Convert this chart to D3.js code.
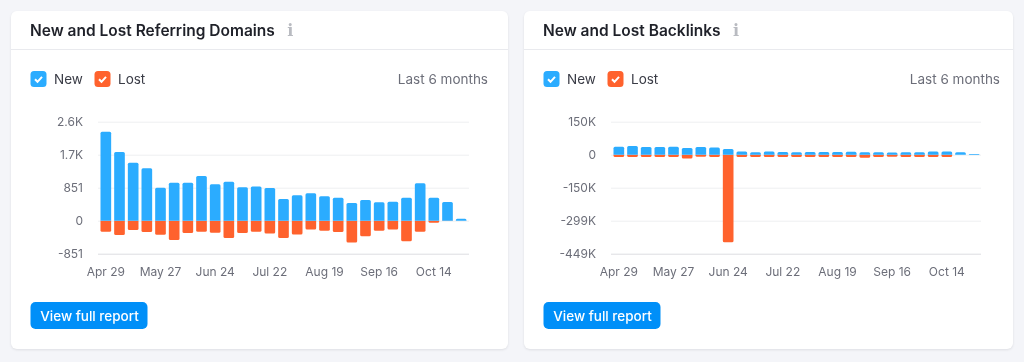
<!DOCTYPE html>
<html>
<head>
<meta charset="utf-8">
<script src="https://cdn.jsdelivr.net/npm/d3@7/dist/d3.min.js"></script>
<style>
html, body { margin: 0; padding: 0; background: #f4f5f9; overflow: hidden; }
svg { display: block; font-family: Inter, "Noto Sans", sans-serif; filter: blur(0.3px); }
</style>
</head>
<body>
<div id="chart"></div>
<script>
var width = 1024,
    height = 362;

// weekly buckets
var weeks = ["Apr 29", "May 6", "May 13", "May 20", "May 27", "Jun 3", "Jun 10", "Jun 17", "Jun 24",
    "Jul 1", "Jul 8", "Jul 15", "Jul 22", "Jul 29", "Aug 5", "Aug 12", "Aug 19", "Aug 26",
    "Sep 2", "Sep 9", "Sep 16", "Sep 23", "Sep 30", "Oct 7", "Oct 14", "Oct 21", "Oct 28"];
var weekLabels = ["Apr 29", "May 27", "Jun 24", "Jul 22", "Aug 19", "Sep 16", "Oct 14"];

// referring domains
var domainsNew = [2296, 1772, 1497, 1350, 851, 980, 980, 1153, 937, 1006, 860, 885, 843,
    559, 654, 705, 628, 594, 456, 533, 473, 490, 594, 963, 594, 482, 52];
var domainsLost = [284, 370, 241, 292, 361, 499, 318, 284, 310, 447, 318, 284, 327,
    447, 353, 224, 258, 292, 559, 404, 258, 224, 533, 284, 52, 5, 0];
var domainsTicks = [2553, 1702, 851, 0, -851];
var domainsTickLabels = ["2.6K", "1.7K", "851", "0", "-851"];

// backlinks
var backlinksNew = [36000, 39000, 35000, 35000, 36000, 30000, 35000, 33000, 26000, 14000, 11000, 14000, 12000,
    11000, 12000, 12000, 12000, 13000, 11000, 11000, 10000, 11000, 11000, 14000, 14000, 11000, 3000];
var backlinksLost = [10000, 10000, 10000, 10000, 10000, 17000, 9000, 10000, 397000, 10000, 10000, 10000, 10000,
    10000, 11000, 11000, 10000, 10000, 14000, 10000, 9000, 10000, 10000, 10000, 10000, 0, 0];
var backlinksTicks = [149700, 0, -149700, -299400, -449100];
var backlinksTickLabels = ["150K", "0", "-150K", "-299K", "-449K"];

var blue = "#2bacff",
    orange = "#ff622d",
    dark = "#1f2129",
    grey = "#6c6e79";

var svg = d3.select("#chart").append("svg")
    .attr("width", width)
    .attr("height", height);

// bar with rounded far end, flat on the zero line
function barPath(x, w, y0, y1, r) {
    var dir = y1 < y0 ? 1 : -1;
    r = Math.min(r, Math.abs(y1 - y0), w / 2);
    var p = d3.path();
    p.moveTo(x, y0);
    p.lineTo(x, y1 + dir * r);
    p.quadraticCurveTo(x, y1, x + r, y1);
    p.lineTo(x + w - r, y1);
    p.quadraticCurveTo(x + w, y1, x + w, y1 + dir * r);
    p.lineTo(x + w, y0);
    p.closePath();
    return p.toString();
}

function drawCard(opts) {
    var g = svg.append("g").attr("transform", "translate(" + opts.x + ",11)");

    g.append("rect")
        .attr("width", opts.w)
        .attr("height", 338)
        .attr("rx", 6)
        .attr("fill", "#fff")
        .style("filter", "drop-shadow(0 1px 1px rgba(25,27,35,0.10))");

    g.append("line")
        .attr("x1", 0).attr("x2", opts.w)
        .attr("y1", 38.5).attr("y2", 38.5)
        .attr("stroke", "#e9eaee");

    var title = g.append("text")
        .attr("x", 19).attr("y", 25)
        .attr("font-size", 15.5)
        .attr("font-weight", 600)
        .attr("fill", dark)
        .text(opts.title);

    g.append("text")
        .attr("x", title.node().getComputedTextLength() + 19 + 12.5).attr("y", 25)
        .attr("font-family", "'DejaVu Serif', serif")
        .attr("font-size", 16)
        .attr("font-weight", 700)
        .attr("fill", "#b9bbc1")
        .text("i");

    // legend
    [["New", blue, 19.5, 43], ["Lost", orange, 83.5, 107]].forEach(function(d) {
        g.append("rect")
            .attr("x", d[2]).attr("y", 60)
            .attr("width", 16).attr("height", 16)
            .attr("rx", 3.5)
            .attr("fill", d[1]);
        g.append("path")
            .attr("d", d3.line()([[d[2] + 4.5, 68.3], [d[2] + 7, 70.8], [d[2] + 11.5, 65.8]]))
            .attr("fill", "none")
            .attr("stroke", "#fff")
            .attr("stroke-width", 2);
        g.append("text")
            .attr("x", d[3]).attr("y", 73)
            .attr("font-size", 13.5)
            .attr("fill", "#3a3c46")
            .text(d[0]);
    });

    g.append("text")
        .attr("x", opts.rightText - opts.x).attr("y", 73)
        .attr("text-anchor", "end")
        .attr("font-size", 13.5)
        .attr("fill", grey)
        .text("Last 6 months");

    // button
    g.append("rect")
        .attr("x", 19.5).attr("y", 291)
        .attr("width", 117).attr("height", 27)
        .attr("rx", 5)
        .attr("fill", "#008ff8");
    g.append("text")
        .attr("x", 78.5).attr("y", 309.5)
        .attr("text-anchor", "middle")
        .attr("font-size", 13.5)
        .attr("font-weight", 500)
        .attr("fill", "#fff")
        .text("View full report");

    // plot
    var plot = svg.append("g");

    var xScale = d3.scaleBand()
        .domain(weeks)
        .range([opts.left, opts.right])
        .paddingInner(0.22)
        .paddingOuter(0.11);

    var yScale = d3.scaleLinear()
        .domain([opts.ticks[opts.ticks.length - 1], opts.ticks[0]])
        .range([253.7, 121.7]);

    var yAxis = d3.axisLeft(yScale)
        .tickValues(opts.ticks)
        .tickSize(-(opts.right - opts.left + opts.gridExtra))
        .tickPadding(15)
        .tickFormat(function(d, i) { return opts.tickLabels[i]; });

    var yg = plot.append("g")
        .attr("transform", "translate(" + (opts.left - 1) + ",0)")
        .call(yAxis);
    yg.select(".domain").remove();
    yg.selectAll("line").attr("stroke", function(d) {
        return d === opts.ticks[opts.ticks.length - 1] ? "#dcdde1" : "#eeeff1";
    });
    yg.selectAll("text")
        .attr("font-size", 12)
        .attr("font-family", "Inter, sans-serif")
        .attr("fill", grey);

    var xAxis = d3.axisBottom(xScale)
        .tickValues(weekLabels)
        .tickSize(0)
        .tickPadding(8);

    var xg = plot.append("g")
        .attr("transform", "translate(0,259)")
        .call(xAxis);
    xg.select(".domain").remove();
    xg.selectAll("text")
        .attr("font-size", 12)
        .attr("font-family", "Inter, sans-serif")
        .attr("fill", grey);

    plot.selectAll(null)
        .data(opts.lost)
        .enter().append("path")
        .attr("d", function(d, i) {
            return barPath(xScale(weeks[i]), xScale.bandwidth(), yScale(0), yScale(-d), 1.5);
        })
        .attr("fill", orange);

    plot.selectAll(null)
        .data(opts.gained)
        .enter().append("path")
        .attr("d", function(d, i) {
            return barPath(xScale(weeks[i]), xScale.bandwidth(), yScale(0), yScale(d), 1.5);
        })
        .attr("fill", blue);
}

drawCard({
    x: 11, w: 497, rightText: 488,
    title: "New and Lost Referring Domains",
    left: 99, right: 468, gridExtra: 2,
    gained: domainsNew, lost: domainsLost,
    ticks: domainsTicks, tickLabels: domainsTickLabels
});

drawCard({
    x: 524, w: 489, rightText: 1000,
    title: "New and Lost Backlinks",
    left: 612, right: 981, gridExtra: 1,
    gained: backlinksNew, lost: backlinksLost,
    ticks: backlinksTicks, tickLabels: backlinksTickLabels
});
</script>
</body>
</html>
